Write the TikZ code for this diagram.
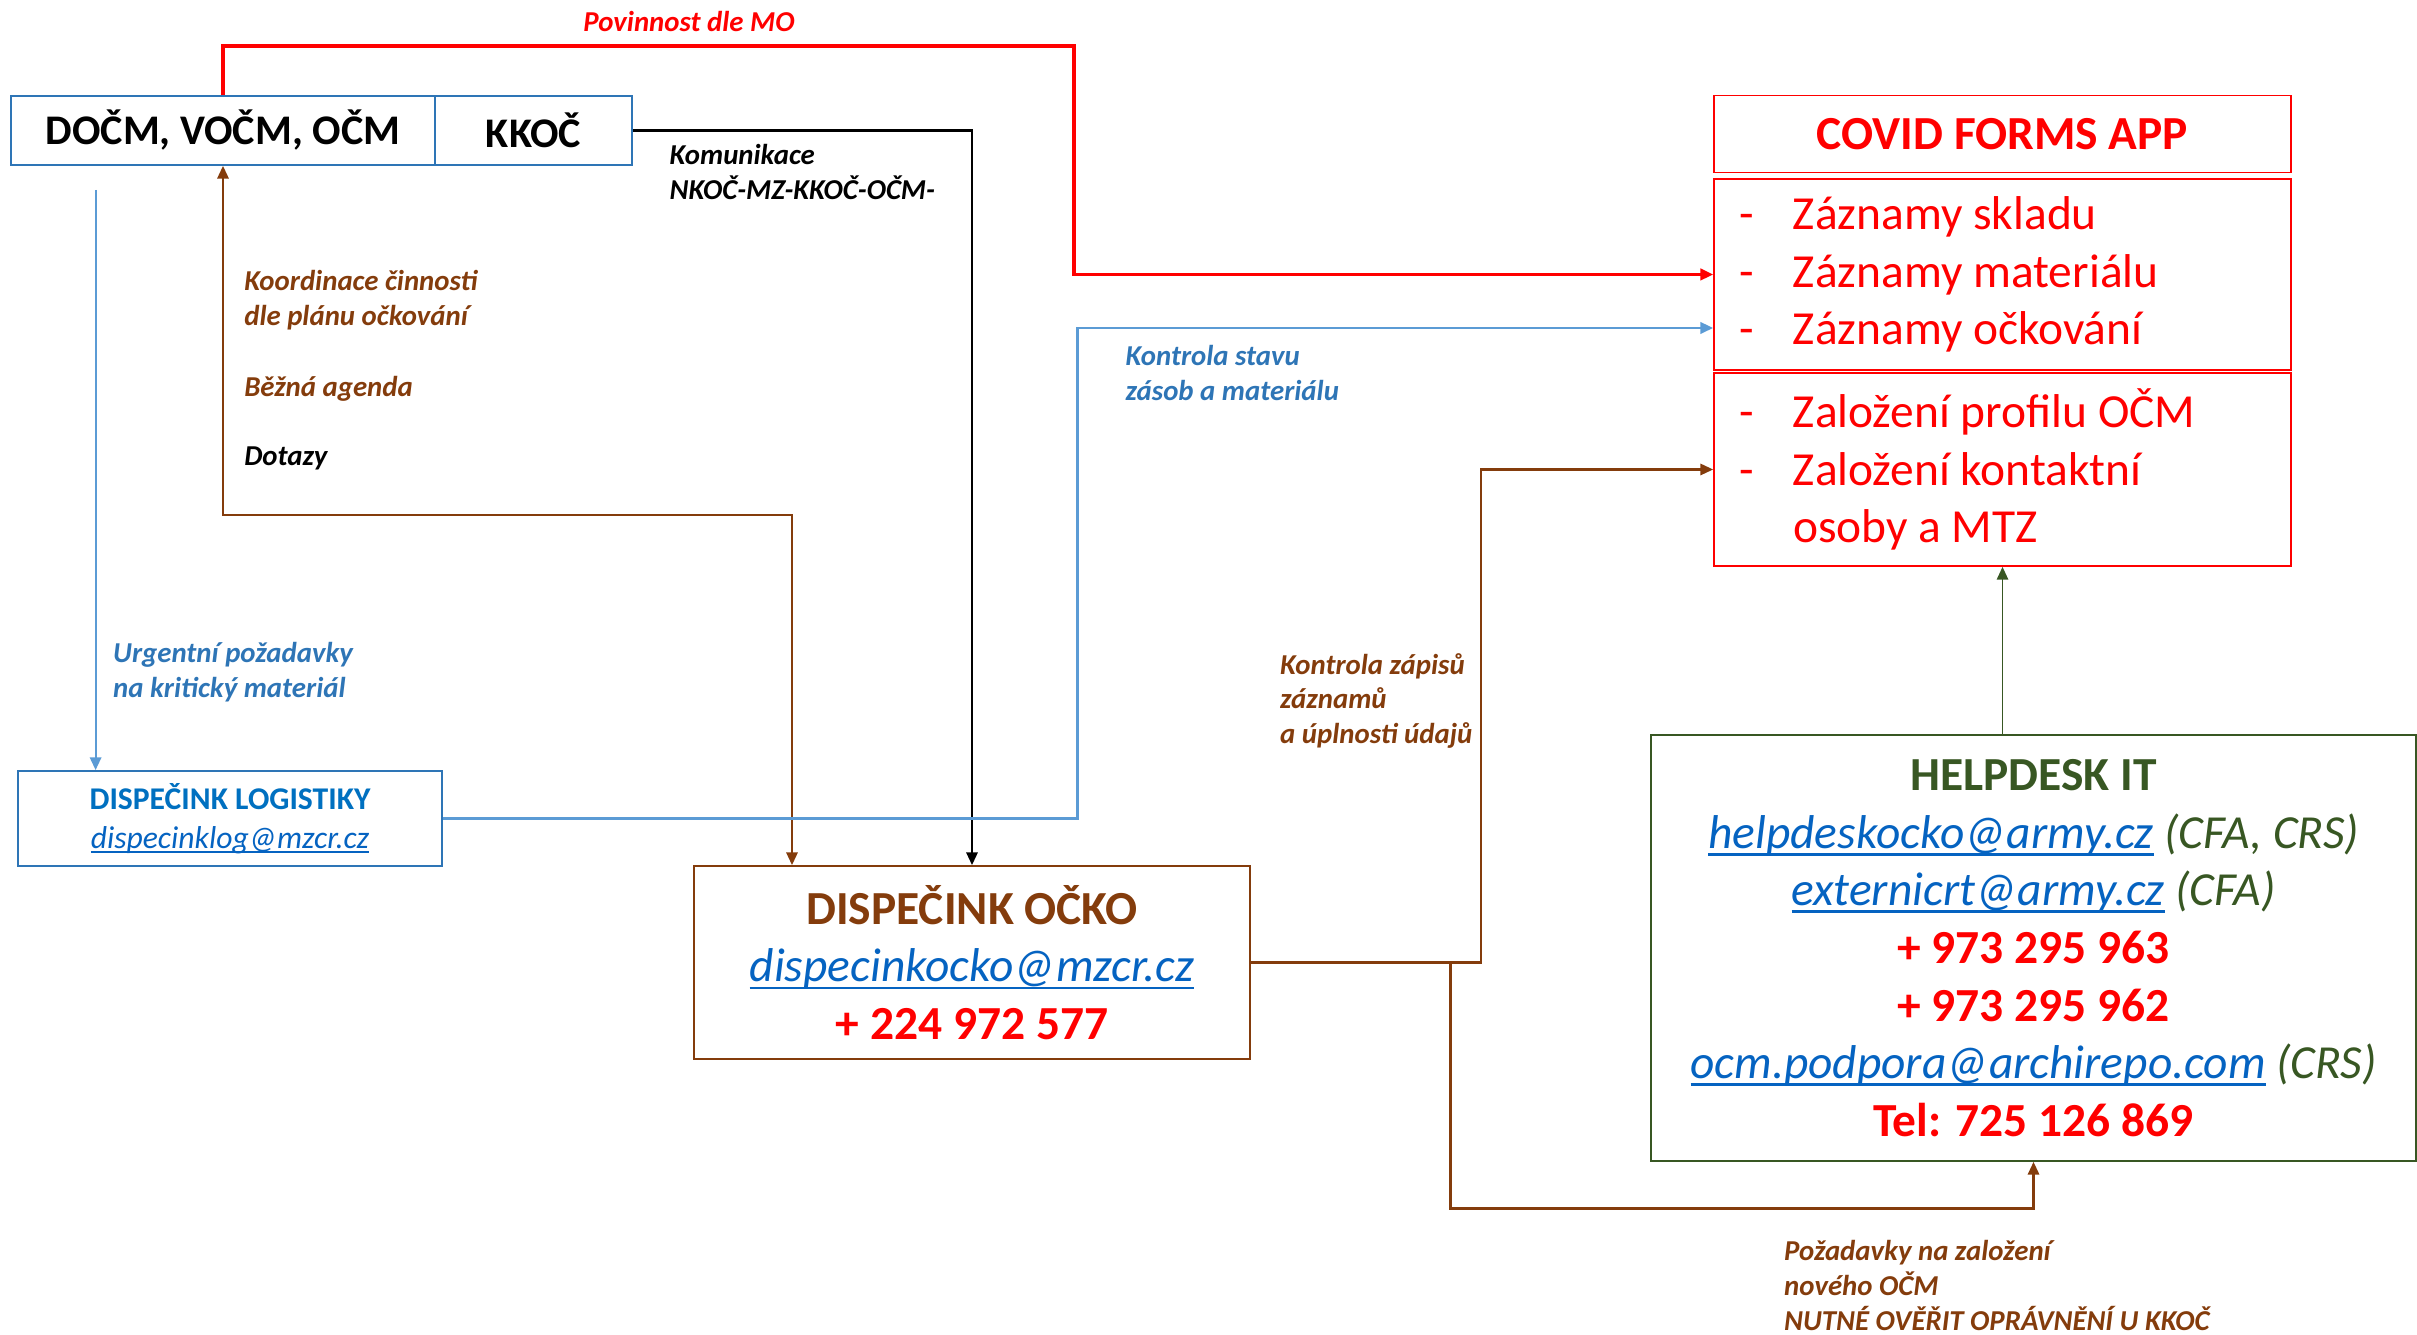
\documentclass[tikz,border=0pt]{standalone}
\usepackage{fontspec}
\setmainfont{Carlito}
\usetikzlibrary{arrows.meta}
\definecolor{boxblue}{HTML}{2E75B6}
\definecolor{lineblue}{HTML}{5B9BD5}
\definecolor{textblue}{HTML}{0070C0}
\definecolor{linkblue}{HTML}{0563C1}
\definecolor{ockobrown}{HTML}{843C0C}
\definecolor{hdgreen}{HTML}{385723}
\newcommand{\mlink}[1]{{\color{linkblue}\setbox0\hbox{#1}\rlap{\rule[-0.16em]{\wd0}{0.06em}}\box0}}
\begin{document}
\begin{tikzpicture}[>={Triangle[length=3.6pt,width=3.2pt]},
  box/.style={draw,line width=0.5pt,inner sep=0pt,align=center},
  big/.style={font=\fontsize{13.5}{16.4}\selectfont},
  lbl/.style={anchor=west,align=left,inner sep=0pt,font=\fontsize{8.2}{9.9}\selectfont\bfseries\itshape},
  wire/.style={line width=0.6pt}]
\useasboundingbox (0,0) rectangle (24.17,13.34);
\node [box,draw=boxblue,minimum width=4.24cm,minimum height=0.69cm,font=\fontsize{12}{14}\selectfont\bfseries] (ocm) at (2.23,12.035) {DOČM, VOČM, OČM};
\node [box,draw=boxblue,minimum width=1.97cm,minimum height=0.69cm,font=\fontsize{12}{14}\selectfont\bfseries] (kkoc) at (5.335,12.035) {KKOČ};
\node [box,draw=boxblue,minimum width=4.235cm,minimum height=0.95cm,font=\fontsize{9}{11}\selectfont] (dlog) at (2.30,5.155)
	{{\bfseries\color{textblue}DISPEČINK LOGISTIKY}\\{\itshape\mlink{dispecinklog@mzcr.cz}}};
\node [box,draw=ockobrown,minimum width=5.56cm,minimum height=1.93cm,big] (docko) at (9.72,3.715)
	{{\bfseries\color{ockobrown}DISPEČINK OČKO}\\{\itshape\mlink{dispecinkocko@mzcr.cz}}\\{\bfseries\color{red}+ 224 972 577}};
\node [box,draw=red,minimum width=5.77cm,minimum height=0.77cm,text=red,font=\fontsize{13.5}{16.4}\selectfont\bfseries] (cfa) at (20.025,11.999) {COVID FORMS APP};
\node [box,draw=red,minimum width=5.77cm,minimum height=1.91cm,text=red,big,align=flush left,text width=5.27cm] (cfarec) at (20.025,10.595)
	{\makebox[0.54cm][l]{-}Záznamy skladu\\\makebox[0.54cm][l]{-}Záznamy materiálu\\\makebox[0.54cm][l]{-}Záznamy očkování};
\node [box,draw=red,minimum width=5.77cm,minimum height=1.93cm,text=red,big,align=flush left,text width=5.27cm] (cfazal) at (20.025,8.645)
	{\makebox[0.54cm][l]{-}Založení profilu OČM\\\makebox[0.54cm][l]{-}Založení kontaktní\\\makebox[0.54cm][l]{}osoby a MTZ};
\node [box,draw=hdgreen,minimum width=7.65cm,minimum height=4.26cm,text=hdgreen,big] (helpdesk) at (20.335,3.86)
	{{\bfseries HELPDESK IT}\\{\itshape\mlink{helpdeskocko@army.cz} (CFA, CRS)}\\{\itshape\mlink{externicrt@army.cz} (CFA)}\\
	{\bfseries\color{red}+ 973 295 963}\\{\bfseries\color{red}+ 973 295 962}\\{\itshape\mlink{ocm.podpora@archirepo.com} (CRS)}\\
	{\bfseries\color{red}Tel: 725 126 869}};
\coordinate (mo) at (10.74,12.88);
\coordinate (urg) at (0.956,11.44);
\coordinate (koord) at (7.92,8.19);
\coordinate (zas) at (10.775,10.06);
\coordinate (zap) at (14.81,8.645);
\coordinate (poz) at (14.505,1.255);
\draw [wire,red,line width=0.9pt,->] (ocm.north) |- (mo) |- (cfarec.west);
\draw [wire,->] (kkoc.east) -| (docko.north);
\draw [wire,lineblue,->] (urg) -- (urg |- dlog.north);
\draw [wire,ockobrown,<->] (ocm.south) |- (koord) -- (koord |- docko.north);
\draw [wire,lineblue,line width=0.8pt,->] (dlog.east) -| (zas) -- (zas -| cfarec.west);
\draw [wire,ockobrown,->] (docko.east) -| (zap) -- (cfazal.west);
\draw [wire,ockobrown,->] (docko.east -| poz) -- (poz) -| (helpdesk.south);
\draw [wire,hdgreen,line width=0.5pt,->] (cfazal.south |- helpdesk.north) -- (cfazal.south);
\node [lbl,anchor=center,text=red] (movin) at (6.89,13.12) {Povinnost dle MO};
\node [lbl] (komun) at (6.69,11.62) {Komunikace\\NKOČ-MZ-KKOČ-OČM-};
\node [lbl,text=boxblue] (urgent) at (1.125,6.615) {Urgentní požadavky\\na kritický materiál};
\node [lbl,text=ockobrown] (koordin) at (2.436,10.34) {Koordinace činnosti\\dle plánu očkování};
\node [lbl,text=ockobrown] (agenda) at (2.436,9.455) {Běžná agenda};
\node [lbl] (dotazy) at (2.436,8.76) {Dotazy};
\node [lbl,text=boxblue] (stav) at (11.25,9.61) {Kontrola stavu\\zásob a materiálu};
\node [lbl,text=ockobrown] (zapisy) at (12.795,6.33) {Kontrola zápisů\\záznamů\\a úplnosti údajů};
\node [lbl,text=ockobrown] (pozad) at (17.835,0.484) {Požadavky na založení\\nového OČM\\NUTNÉ OVĚŘIT OPRÁVNĚNÍ U KKOČ};
\end{tikzpicture}
\end{document}
